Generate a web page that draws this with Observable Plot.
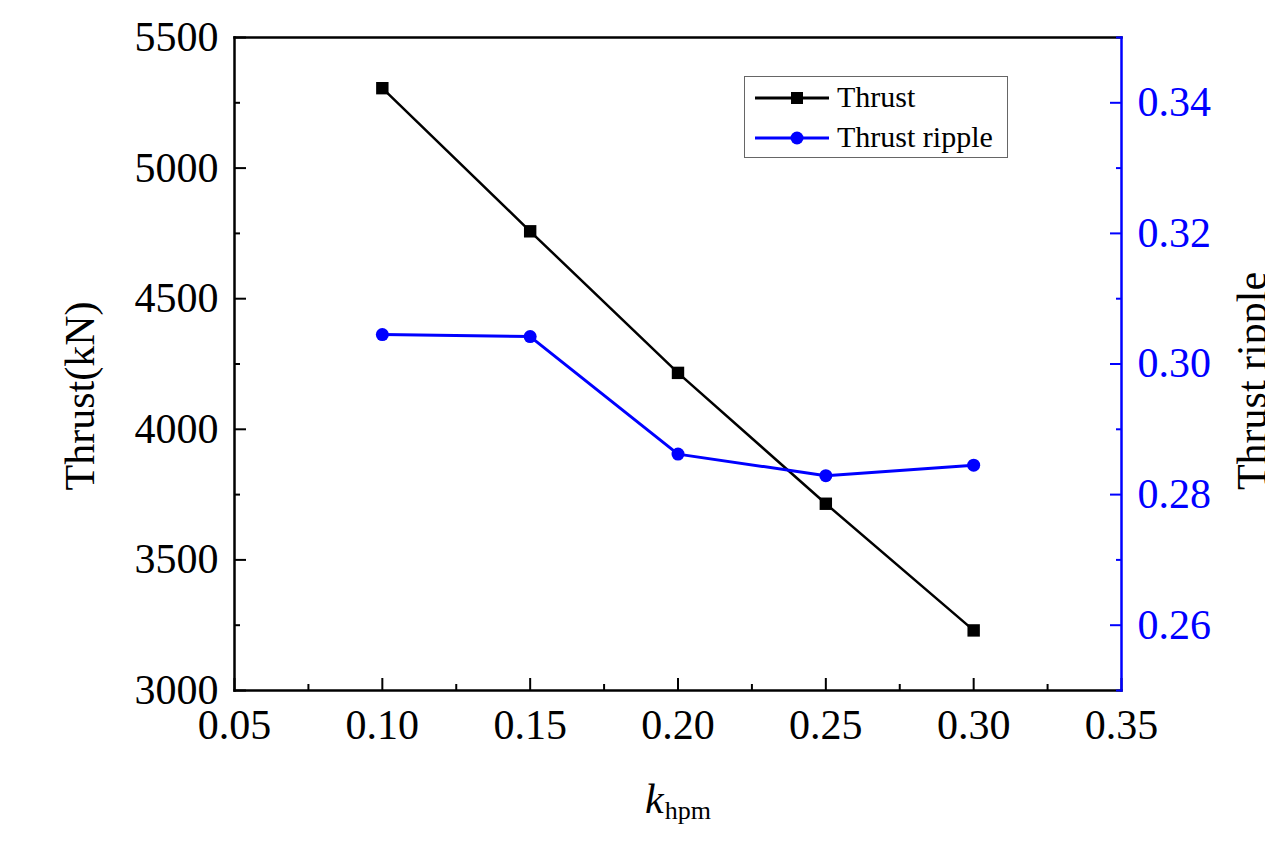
<!DOCTYPE html>
<html>
<head>
<meta charset="utf-8">
<script src="https://cdn.jsdelivr.net/npm/d3@7"></script>
<script src="https://cdn.jsdelivr.net/npm/@observablehq/plot@0.6"></script>
<style>
  html, body { margin: 0; padding: 0; background: #fff; }
  #wrap { position: relative; width: 1265px; height: 846px; overflow: hidden; font-family: "Liberation Serif", "Times New Roman", serif; }
  #wrap > svg, #wrap > .layer { position: absolute; left: 0; top: 0; }
  .ytitle { position: absolute; font-size: 42px; white-space: nowrap; color: #000; transform-origin: center center; }
  #legend { position: absolute; left: 744px; top: 76px; width: 264px; height: 82px; border: 1.5px solid #666; box-sizing: border-box; background: #fff; }
  #legend .row { position: absolute; left: 0; height: 40px; width: 100%; font-size: 30px; }
  #legend svg { position: absolute; left: 8px; top: 0; }
  #legend span { position: absolute; left: 92px; top: 2px; }
  #xtitle { position: absolute; left: 645px; top: 775px; font-size: 42px; }
  #xtitle i { font-style: italic; }
  #xtitle sub { font-size: 26px; position: relative; top: 6px; vertical-align: baseline; margin-left: 1px; }
</style>
</head>
<body>
<div id="wrap"></div>
<script>
// ---- data ----
const kValues = [0.10, 0.15, 0.20, 0.25, 0.30];
const thrust = [5306, 4758, 4216, 3715, 3230];
const ripple = [0.3045, 0.3042, 0.2862, 0.2829, 0.2845];
const xMajorTicks = [0.05, 0.10, 0.15, 0.20, 0.25, 0.30, 0.35];
const xMinorTicks = [0.075, 0.125, 0.175, 0.225, 0.275, 0.325];
const yLeftMajor = [3000, 3500, 4000, 4500, 5000, 5500];
const yLeftMinor = [3250, 3750, 4250, 4750, 5250];
const yRightMajor = [0.26, 0.28, 0.30, 0.32, 0.34];
const yRightMinor = [0.25, 0.27, 0.29, 0.31, 0.33, 0.35];
const seriesNames = ["Thrust", "Thrust ripple"];

const thrustData = kValues.map((k, i) => ({k, v: thrust[i]}));
const rippleData = kValues.map((k, i) => ({k, v: ripple[i]}));

const BLUE = "#0000ff";
const common = {
  width: 1265, height: 846,
  marginLeft: 234, marginRight: 144, marginTop: 37, marginBottom: 156,
  style: {fontFamily: "'Liberation Serif', 'Times New Roman', serif", fontSize: "42px", background: "transparent", overflow: "visible"}
};

const p1 = Plot.plot({
  ...common,
  x: {domain: [0.05, 0.35]},
  y: {domain: [3000, 5500]},
  marks: [
    Plot.axisX({ticks: xMinorTicks, tickSize: -6, tickFormat: () => "", label: null, strokeWidth: 2}),
    Plot.axisX({ticks: xMajorTicks, tickSize: -12, tickPadding: 31, tickFormat: d => d.toFixed(2), label: null, strokeWidth: 2, fill: "#000"}),
    Plot.axisY({ticks: yLeftMinor, tickSize: -6, tickFormat: () => "", label: null, strokeWidth: 2}),
    Plot.axisY({ticks: yLeftMajor, tickSize: -12, tickPadding: 28, tickFormat: d => String(d), label: null, strokeWidth: 2, fill: "#000"}),
    Plot.frame({anchor: "top", stroke: "#000", strokeWidth: 2.5}),
    Plot.frame({anchor: "left", stroke: "#000", strokeWidth: 2.5}),
    Plot.frame({anchor: "bottom", stroke: "#000", strokeWidth: 2.5}),
    Plot.line(thrustData, {x: "k", y: "v", stroke: "#000", strokeWidth: 2.5}),
    Plot.dot(thrustData, {x: "k", y: "v", symbol: "square", fill: "#000", r: 7})
  ]
});

const p2 = Plot.plot({
  ...common,
  x: {domain: [0.05, 0.35], axis: null},
  y: {domain: [0.25, 0.35]},
  marks: [
    Plot.axisY({anchor: "right", ticks: yRightMinor, tickSize: -6, tickFormat: () => "", label: null, stroke: BLUE, strokeWidth: 2}),
    Plot.axisY({anchor: "right", ticks: yRightMajor, tickSize: -12, tickPadding: 28, tickFormat: d => d.toFixed(2), label: null, stroke: BLUE, fill: BLUE, strokeWidth: 2}),
    Plot.frame({anchor: "right", stroke: BLUE, strokeWidth: 2.5}),
    Plot.line(rippleData, {x: "k", y: "v", stroke: BLUE, strokeWidth: 3}),
    Plot.dot(rippleData, {x: "k", y: "v", symbol: "circle", fill: BLUE, r: 6.5})
  ]
});

const wrap = document.getElementById("wrap");
wrap.appendChild(p1);
wrap.appendChild(p2);

// axis titles
const yl = document.createElement("div");
yl.className = "ytitle";
yl.textContent = "Thrust(kN)";
wrap.appendChild(yl);
const yr = document.createElement("div");
yr.className = "ytitle";
yr.textContent = "Thrust ripple";
wrap.appendChild(yr);
function placeRot(el, cx, cy) {
  const w = el.offsetWidth, h = el.offsetHeight;
  el.style.left = (cx - w / 2) + "px";
  el.style.top = (cy - h / 2) + "px";
  el.style.transform = "rotate(-90deg)";
}
placeRot(yl, 80, 396);
placeRot(yr, 1252, 381);

const xt = document.createElement("div");
xt.id = "xtitle";
xt.innerHTML = "<i>k</i><sub>hpm</sub>";
wrap.appendChild(xt);

// legend
const lg = document.createElement("div");
lg.id = "legend";
const symbols = [
  `<svg width="80" height="40"><line x1="2" y1="20" x2="76" y2="20" stroke="#000" stroke-width="3"/><rect x="38" y="14" width="12" height="12" fill="#000"/></svg>`,
  `<svg width="80" height="40"><line x1="2" y1="20" x2="76" y2="20" stroke="${BLUE}" stroke-width="3"/><circle cx="44" cy="20" r="6.5" fill="${BLUE}"/></svg>`
];
seriesNames.forEach((name, i) => {
  const row = document.createElement("div");
  row.className = "row";
  row.style.top = (i === 0 ? 1 : 41) + "px";
  row.innerHTML = symbols[i] + `<span>${name}</span>`;
  lg.appendChild(row);
});
wrap.appendChild(lg);
</script>
</body>
</html>
